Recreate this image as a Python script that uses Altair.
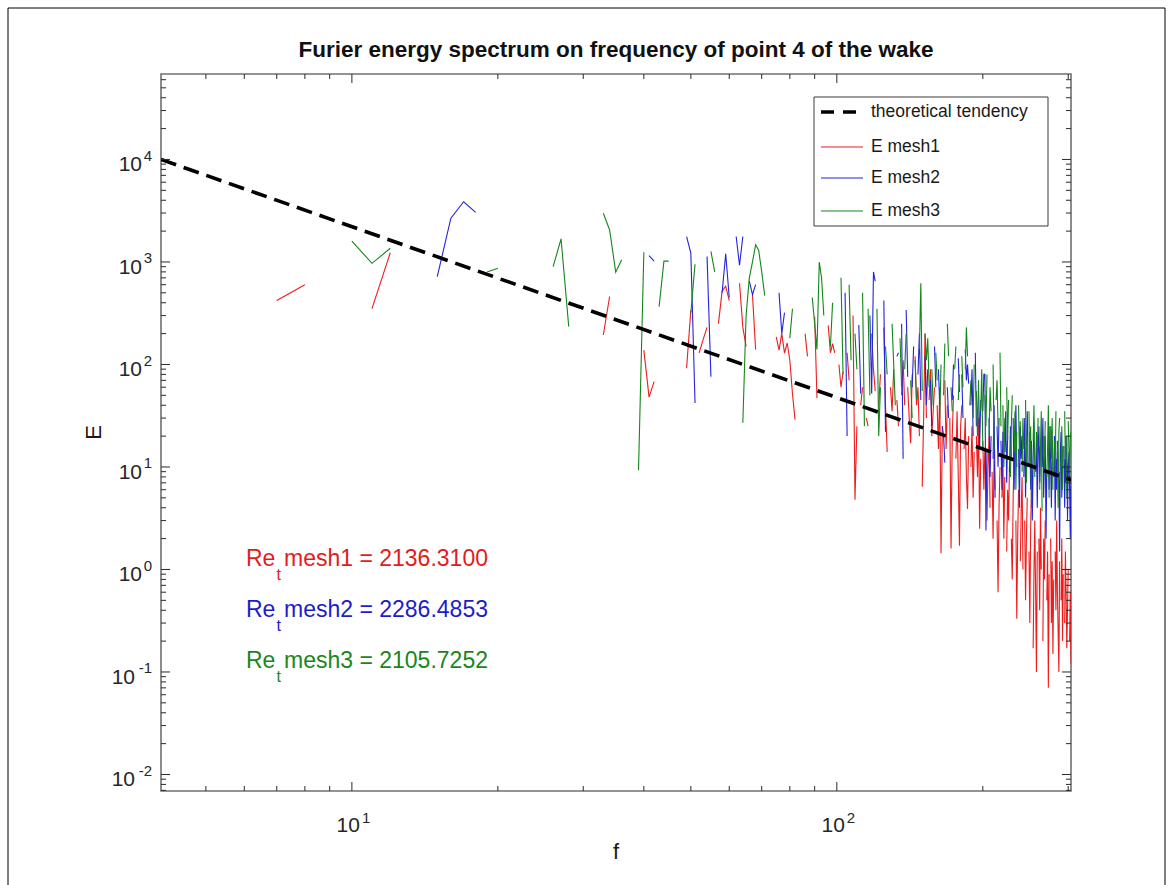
import altair as alt
import pandas as pd

N = None
FONT = "Liberation Sans"

# integer frequency bins
FREQ = list(range(5, 305))

E_MESH1 = [
    N, N, 420, 600, N, N, 350, 1230, N, N,            # 5-14
    N, N, N, N, N, N, N, N, N, N,                     # 15-24
    N, N, N, N, N, N, N, N, 194, 460,                 # 25-34
    N, N, N, N, N, 138, 48, 68, N, N,                 # 35-44
    N, N, N, N, 92, 340, N, 130, 175, 230,            # 45-54
    N, N, 250, 520, 580, 420, N, N, 620, 230,         # 55-64
    150, N, 480, 140, N, N, N, N, 260, N,             # 65-74
    186, 138, 200, 129, 162, 110, 52, 29, N, 90,      # 75-84
    N, 200, 120, N, N, 293, 47, N, 150, N,            # 85-94
    N, 240, 130, 160, 130, N, 100, 60, 85, N,         # 95-104
    130, 70, N, 300, 4.8, 25, N, 40, 60, N,           # 105-114
    30, 25, N, 200, 90, 55, N, 40, 80, N,             # 115-124
    230, 40, 14, N, 60, 35, 90, N, 45, 25,            # 125-134
    N, 50, 110, 40, N, 60, 30, 17, 80, N,             # 135-144
    120, 40, 60, 20, N, 6.4, 30, 200, 30, N,          # 145-154
    45, 90, 20, 35, 60, N, 40, 15, 60, 1.44,          # 155-164
    25, N, 70, 15, 40, N, 30, 1.6, 20, 50,            # 165-174
    N, 12, 35, 8, 1.7, 25, 40, N, 15, 30,             # 175-184
    8, 3.9, 20, N, 10, 25, 5, 14, N, 20,              # 185-194
    8, 30, 2.5, 12, N, 18, 6, 15, N, 3,               # 195-204
    10, 20, 4, N, 9, 2, 14, 6, N, 3,                  # 205-214
    0.6, 4, 10, N, 5, 12, 2, 8, N, 1.5,               # 215-224
    6, 3, 10, N, 2, 0.8, 5, 12, N, 3,                 # 225-234
    0.33, 2, 6, N, 1.2, 4, 8, 1, N, 3,                # 235-244
    0.5, 2, 5, N, 1.5, 0.3, 2.5, 6, N, 0.17,          # 245-254
    1, 3, 0.6, 0.1, 1.5, N, 2, 0.4, 4, 1,             # 255-264
    N, 0.2, 2, 0.8, 3, N, 0.5, 1.5, 0.07, 0.9,        # 265-274
    N, 2, 0.3, 1.2, 0.15, 0.8, N, 1.5, 0.4, 3,        # 275-284
    0.6, 0.25, 0.1, 1.2, N, 0.5, 2, 0.2, 0.9, N,      # 285-294
    0.3, 1.5, 0.6, 0.17, 0.4, 1, N, 0.2, 0.6, 0.12,   # 295-304
]

E_MESH2 = [
    N, N, N, N, N, N, N, N, N, N,                     # 5-14
    720, 2670, 3870, 3050, N, N, N, N, N, N,          # 15-24
    N, N, N, N, N, N, N, N, N, N,                     # 25-34
    N, N, N, N, N, N, 1150, 1020, N, N,               # 35-44
    N, N, N, N, 1770, 1220, 42, N, N, 1130,           # 45-54
    76, N, N, 500, 1200, 450, N, 1770, 930, 1770,     # 55-64
    N, 650, 480, 600, N, N, N, N, N, N,               # 65-74
    N, 500, 200, 320, N, N, N, N, N, N,               # 75-84
    N, N, N, N, N, N, N, N, N, N,                     # 85-94
    N, N, N, N, N, N, N, N, N, 500,                   # 95-104
    20, N, N, N, N, N, 243, 52, N, N,                 # 105-114
    N, N, 300, 52, 800, 650, N, N, N, N,              # 115-124
    420, 22, N, N, N, N, N, N, 120, 130,              # 125-134
    N, 250, 12, N, 340, 76, N, N, 60, 150,            # 135-144
    N, N, 80, 200, 45, N, N, 120, 40, 90,             # 145-154
    N, 70, 25, N, 150, 60, N, 90, 40, N,              # 155-164
    25, 20, 11, N, 60, 30, N, N, 45, 100,             # 165-174
    N, 35, N, 115, 54, N, 80, 30, N, 140,             # 175-184
    70, 100, 65, N, 40, 90, 20, N, 130, 25,           # 185-194
    N, 60, 15, 45, N, 35, 80, 80, 2.4, 15,            # 195-204
    N, 30, 8, 20, N, 12, 40, 5, N, 25,                # 205-214
    10, 30, N, 18, 6, 22, N, 14, 35, 7,               # 215-224
    20, N, 9, 25, 12, N, 30, 6, 18, 40,               # 225-234
    10, N, 15, 4, 25, 12, 20, N, 8, 30,               # 235-244
    5, 15, 35, 10, N, 22, 6, 18, 3, 12,               # 245-254
    28, N, 9, 20, 4, 14, 25, 7, 16, N,                # 255-264
    10, 30, 5, 12, 20, 2, 9, N, 18, 6,                # 265-274
    25, 11, 4, 15, N, 8, 20, 3, 12, 6,                # 275-284
    18, N, 9, 1.5, 14, 22, 5, 10, N, 16,              # 285-294
    4, 12, 7, 20, 3, 10, 14, 6, 2, 8,                 # 295-304
]

E_MESH3 = [
    N, N, N, N, N, 1600, 970, 1360, N, N,             # 5-14
    N, N, N, N, 800, 870, N, N, N, N,                 # 15-24
    N, 900, 1680, 234, N, N, N, N, 2990, 2050,        # 25-34
    795, 1050, N, N, 9.3, 1245, N, N, 366, 1020,      # 35-44
    1020, N, N, N, N, 320, 950, N, N, N,              # 45-54
    1270, 800, N, N, N, N, N, N, N, 27,               # 55-64
    300, 700, 1000, 1470, 1300, 800, 470, N, N, N,    # 65-74
    N, N, N, N, N, 180, 350, N, N, N,                 # 75-84
    N, N, N, N, 450, 250, 140, 1000, 700, 300,        # 85-94
    N, N, 150, 400, N, N, N, 700, 80, N,              # 95-104
    N, 600, 110, N, 200, 90, N, N, 500, 25,           # 105-114
    N, 350, 50, N, N, N, 350, 20, 60, N,              # 115-124
    N, 150, 80, N, N, 250, 100, 40, N, N,             # 125-134
    180, 60, N, 90, 200, N, N, 70, 30, N,             # 135-144
    110, 45, N, 140, 620, 55, N, 200, 110, 180,       # 145-154
    60, N, 90, 40, N, 130, 70, N, 30, 100,            # 155-164
    N, 50, 160, N, 250, 120, N, 60, 35, N,            # 165-174
    90, 150, N, 45, 80, N, 120, 60, N, 90,            # 175-184
    230, 120, N, 40, 70, N, 30, 100, N, 55,           # 185-194
    20, 70, N, 35, 90, 15, N, 50, 25, 80,             # 195-204
    N, 20, 60, 35, N, 100, 15, N, 45, 70,             # 205-214
    25, N, 130, 25, N, 40, 10, 30, N, 60,             # 215-224
    18, 45, N, 8, 25, 50, N, 14, 35, 6,               # 225-234
    22, N, 40, 12, 28, N, 9, 30, 15, N,               # 235-244
    45, 7, 20, N, 35, 10, 25, 4, N, 18,               # 245-254
    40, 8, N, 22, 12, 30, N, 6, 16, 35,               # 255-264
    3.7, N, 20, 10, 28, N, 8, 15, 40, 5,              # 265-274
    N, 25, 12, 30, 6, N, 18, 9, 35, N,                # 275-284
    14, 4, 22, 30, N, 10, 25, 6, 16, N,               # 285-294
    35, 12, 20, 5, N, 28, 15, 8, 20, 22,              # 295-304
]

# -5/3 reference slope
THEORY_F = [4.04, 304]
THEORY_E = [10000, 7.46]

SERIES = ["E mesh1", "E mesh2", "E mesh3"]
LINE_COLORS = ["#ee1c1c", "#2424d8", "#14871a"]
TEXT_COLORS = ["#e31b1b", "#1c1cc8", "#1a861a"]
RE_LABELS = [" mesh1 = 2136.3100", " mesh2 = 2286.4853", " mesh3 = 2105.7252"]

X_MAJOR = [10, 100]
X_MINOR = [5, 6, 7, 8, 9, 20, 30, 40, 50, 60, 70, 80, 90, 200, 300]
Y_MAJOR = [0.01, 0.1, 1, 10, 100, 1000, 10000]
Y_EXP = ["-2", "-1", "0", "1", "2", "3", "4"]
X_EXP = ["1", "2"]

W, H = 910, 717
xs = alt.Scale(type="log", domain=[4.04, 304], nice=False)
ys = alt.Scale(type="log", domain=[0.0069, 68200], nice=False)


def segments(name, values):
    """Split a series into contiguous runs (gaps are missing values)."""
    assert len(values) == len(FREQ), (name, len(values))
    rows, run, k = [], [], 0
    for f, e in zip(FREQ, values + [None]):
        if e is None:
            if len(run) >= 2:
                rows.extend(run)
                k += 1
            run = []
        else:
            run.append({"f": f, "E": e, "seg": f"{name}-{k}"})
    if len(run) >= 2:
        rows.extend(run)
    return pd.DataFrame(rows)


layers = []

for name, vals, col in zip(SERIES, [E_MESH1, E_MESH2, E_MESH3], LINE_COLORS):
    layers.append(
        alt.Chart(segments(name, vals))
        .mark_line(color=col, strokeWidth=1.1, clip=True)
        .encode(
            x=alt.X("f:Q", scale=xs, axis=None),
            y=alt.Y("E:Q", scale=ys, axis=None),
            detail="seg:N",
        )
    )

layers.append(
    alt.Chart(pd.DataFrame({"f": THEORY_F, "E": THEORY_E}))
    .mark_line(color="black", strokeWidth=3.6, strokeDash=[16, 8], clip=True)
    .encode(x=alt.X("f:Q", scale=xs, axis=None), y=alt.Y("E:Q", scale=ys, axis=None))
)


# inward tick marks on all four sides
def x_ticks(vals, length, top):
    y0, y1 = (0, length) if top else (H, H - length)
    return (
        alt.Chart(pd.DataFrame({"v": vals}))
        .mark_rule(color="#2a2a2a", strokeWidth=1)
        .encode(x=alt.X("v:Q", scale=xs, axis=None), y=alt.value(y0), y2=alt.value(y1))
    )


def y_ticks(vals, length, right):
    x0, x1 = (W, W - length) if right else (0, length)
    return (
        alt.Chart(pd.DataFrame({"v": vals}))
        .mark_rule(color="#2a2a2a", strokeWidth=1)
        .encode(y=alt.Y("v:Q", scale=ys, axis=None), x=alt.value(x0), x2=alt.value(x1))
    )


y_minor = [k * 10.0 ** e for e in range(-3, 5) for k in range(2, 10)]
y_minor = [v for v in y_minor if 0.0069 < v < 68200]

for top in (False, True):
    layers.append(x_ticks(X_MAJOR, 9, top))
    layers.append(x_ticks(X_MINOR, 5, top))
for right in (False, True):
    layers.append(y_ticks(Y_MAJOR, 9, right))
    layers.append(y_ticks(y_minor, 5, right))

# tick labels written as 10 with a raised exponent
LABEL_COLOR = "#262626"
xlab = pd.DataFrame({"v": X_MAJOR, "exp": X_EXP})
layers.append(
    alt.Chart(xlab)
    .mark_text(align="right", baseline="alphabetic", dx=8, dy=41, fontSize=21, font=FONT, color=LABEL_COLOR)
    .encode(x=alt.X("v:Q", scale=xs, axis=None), y=alt.value(H), text=alt.value("10"))
)
layers.append(
    alt.Chart(xlab)
    .mark_text(align="left", baseline="alphabetic", dx=10, dy=32, fontSize=15, font=FONT, color=LABEL_COLOR)
    .encode(x=alt.X("v:Q", scale=xs, axis=None), y=alt.value(H), text="exp:N")
)

ylab = pd.DataFrame({"v": Y_MAJOR, "exp": Y_EXP})
ylab["neg"] = ylab["exp"].str.startswith("-")
for neg, off in ((True, -26), (False, -19)):
    sub = ylab[ylab["neg"] == neg]
    layers.append(
        alt.Chart(sub)
        .mark_text(align="right", baseline="alphabetic", dy=12, fontSize=21, font=FONT, color=LABEL_COLOR)
        .encode(y=alt.Y("v:Q", scale=ys, axis=None), x=alt.value(off), text=alt.value("10"))
    )
layers.append(
    alt.Chart(ylab)
    .mark_text(align="right", baseline="alphabetic", dy=1.5, fontSize=15, font=FONT, color=LABEL_COLOR)
    .encode(y=alt.Y("v:Q", scale=ys, axis=None), x=alt.value(-9), text="exp:N")
)


def label(text, x, y, size, color="#1a1a1a", weight="normal", align="left", baseline="alphabetic", angle=0):
    return alt.Chart(pd.DataFrame({"t": [text]})).mark_text(
        align=align, baseline=baseline, fontSize=size, font=FONT, fontWeight=weight,
        color=color, angle=angle,
    ).encode(x=alt.value(x), y=alt.value(y), text="t:N")


# title and axis names
layers.append(label("Furier energy spectrum on frequency of point 4 of the wake", W / 2, -17, 22.5,
                    color="#111111", weight="bold", align="center"))
layers.append(label("f", W / 2, 68 + H, 22, align="center"))
layers.append(label("E", -67.5, H / 2, 22, align="center", baseline="middle", angle=270))

# Re_t annotations
for i, (txt, col) in enumerate(zip(RE_LABELS, TEXT_COLORS)):
    base = 492 + 51 * i
    layers.append(label("Re", 85, base, 23, color=col))
    layers.append(label("t", 115.5, base + 14, 16, color=col))
    layers.append(label(txt, 123, base, 23, color=col))

# legend box
layers.append(
    alt.Chart(pd.DataFrame({"a": [0]}))
    .mark_rect(fill="white", stroke="#3a3a3a", strokeWidth=1)
    .encode(x=alt.value(653), x2=alt.value(887), y=alt.value(23), y2=alt.value(152))
)
LEG_ROWS = [38, 73, 104, 137]
layers.append(
    alt.Chart(pd.DataFrame({"a": [0]}))
    .mark_rule(color="black", strokeWidth=3.6, strokeDash=[13, 9])
    .encode(x=alt.value(660), x2=alt.value(702), y=alt.value(LEG_ROWS[0]))
)
for name, col, yy in zip(SERIES, LINE_COLORS, LEG_ROWS[1:]):
    layers.append(
        alt.Chart(pd.DataFrame({"a": [0]}))
        .mark_rule(color=col, strokeWidth=1.1)
        .encode(x=alt.value(660), x2=alt.value(702), y=alt.value(yy))
    )
for name, yy in zip(["theoretical tendency"] + SERIES, LEG_ROWS):
    layers.append(label(name, 710, yy, 17.5, baseline="middle"))

# outer figure border
layers.append(
    alt.Chart(pd.DataFrame({"a": [0]}))
    .mark_rect(fill=None, stroke="#000000", strokeWidth=1)
    .encode(x=alt.value(-153), x2=alt.value(1004), y=alt.value(-66), y2=alt.value(830))
)

chart = (
    alt.layer(*layers)
    .properties(
        width=W,
        height=H,
        padding={"left": 161, "top": 74, "right": 100, "bottom": 94},
        autosize=alt.AutoSizeParams(type="none"),
        background="white",
    )
    .configure_view(stroke="#707070", strokeWidth=1.6)
)

chart.save("out.html", embed_options={"renderer": "svg", "actions": False})
